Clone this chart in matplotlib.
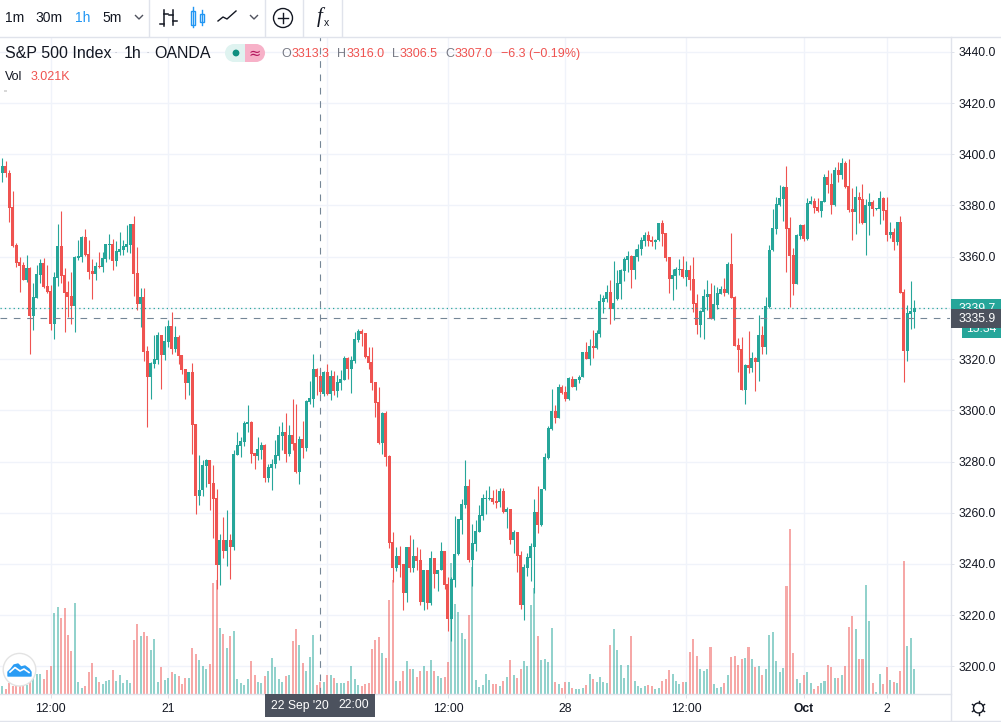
import numpy as np
import matplotlib
matplotlib.use("Agg")
import matplotlib.pyplot as plt
from matplotlib.patches import Rectangle, Circle, Polygon

plt.rcParams['font.family'] = ['Liberation Sans', 'DejaVu Sans']

#-----------data-----------#

opens = [3391.9,3392.6,3395.5,3392.6,3379.3,3364.6,3357.8,3356.6,3350.9,3355.6,
3336.9,3343.9,3352.9,3357.6,3348.6,3346.6,3333.7,3351.7,3364.2,3352.9,
3346.2,3344.7,3340.8,3359.5,3359.9,3367.7,3361.1,3354.4,3353.3,3356.4,
3356.0,3359.1,3364.7,3365.0,3358.3,3361.9,3362.6,3363.8,3364.6,3372.8,
3353.7,3341.5,3344.3,3323.2,3313.0,3318.1,3319.7,3329.4,3321.6,3326.7,
3332.9,3324.0,3328.7,3321.6,3316.2,3310.7,3315.0,3294.5,3266.5,3268.8,
3278.3,3280.5,3271.5,3265.6,3239.6,3249.2,3244.9,3249.2,3246.5,3282.6,
3286.1,3287.5,3294.5,3295.3,3283.2,3282.0,3284.4,3286.3,3273.4,3277.6,
3278.9,3282.2,3290.0,3291.6,3283.0,3290.4,3287.3,3276.0,3288.9,3285.4,
3303.3,3304.5,3316.2,3313.3,3306.5,3315.0,3306.5,3313.5,3307.6,3310.7,
3311.9,3320.5,3316.2,3319.3,3327.5,3331.1,3330.3,3321.3,3319.0,3311.1,
3303.3,3287.3,3299.0,3282.2,3248.6,3238.5,3243.2,3240.1,3228.7,3246.7,
3238.5,3243.2,3241.6,3225.2,3237.7,3224.8,3242.4,3236.1,3237.7,3245.1,
3232.2,3218.6,3233.8,3243.9,3257.2,3263.1,3270.6,3241.6,3247.9,3252.6,
3258.8,3265.4,3265.4,3265.8,3264.7,3264.1,3268.6,3260.2,3261.5,3249.4,
3252.6,3243.6,3224.0,3238.5,3242.4,3246.8,3260.4,3255.3,3269.4,3281.5,
3292.7,3299.7,3297.0,3309.1,3307.2,3304.4,3312.4,3309.1,3311.9,3313.0,
3322.8,3320.1,3325.1,3324.4,3329.8,3342.3,3343.5,3346.2,3339.6,3343.5,
3349.4,3354.4,3358.7,3360.3,3354.8,3359.9,3363.0,3366.2,3368.5,3366.5,
3365.9,3366.5,3373.2,3369.3,3359.9,3351.3,3352.5,3354.8,3355.2,3352.1,
3354.8,3351.3,3341.9,3333.3,3338.4,3344.3,3345.4,3335.7,3341.1,3345.4,
3347.4,3345.8,3357.2,3344.3,3325.5,3324.0,3307.9,3317.7,3316.5,3320.5,
3318.9,3329.4,3324.7,3340.5,3362.6,3370.8,3380.2,3382.6,3387.2,3371.2,
3360.7,3349.4,3368.1,3372.4,3366.9,3380.7,3381.8,3379.4,3377.9,3381.4,
3391.2,3388.4,3380.2,3393.9,3391.9,3396.6,3387.6,3378.7,3377.5,3383.3,
3382.6,3373.2,3379.8,3381.4,3378.5,3378.7,3382.9,3378.3,3368.5,3369.7,
3365.8,3373.6,3346.2,3323.2,3337.6,3338.4]

highs = [3395.2,3398.4,3397.4,3393.9,3385.7,3365.2,3359.8,3357.9,3360.7,3356.1,
3349.6,3356.8,3359.0,3359.4,3356.8,3349.0,3353.9,3372.8,3377.9,3355.6,
3350.5,3354.0,3360.3,3366.5,3368.1,3370.8,3366.5,3359.1,3357.9,3361.9,
3361.9,3365.0,3368.9,3366.9,3366.2,3369.7,3366.5,3372.4,3372.8,3375.7,
3363.8,3347.8,3347.8,3325.1,3318.9,3329.4,3330.6,3329.4,3332.9,3335.3,
3338.4,3332.9,3329.4,3321.6,3316.2,3315.0,3318.5,3294.8,3282.4,3280.5,
3281.1,3280.5,3278.5,3269.1,3251.6,3258.2,3260.9,3251.6,3284.4,3291.4,
3289.5,3295.7,3302.0,3295.7,3283.2,3289.5,3287.5,3286.7,3279.2,3281.1,
3288.5,3293.7,3295.5,3299.0,3294.4,3304.5,3302.6,3290.0,3295.9,3304.1,
3311.5,3322.1,3316.6,3316.0,3315.4,3318.2,3315.8,3315.4,3313.9,3315.8,
3321.3,3320.9,3321.3,3330.7,3331.8,3331.8,3330.3,3324.8,3324.8,3311.1,
3309.2,3299.4,3299.8,3282.6,3252.5,3246.7,3247.1,3240.1,3246.7,3251.4,
3249.8,3246.6,3245.9,3237.7,3237.7,3245.1,3242.4,3237.7,3248.6,3245.1,
3235.0,3235.0,3258.8,3257.6,3265.4,3280.7,3273.3,3255.7,3257.2,3263.1,
3267.4,3269.0,3270.5,3269.0,3269.4,3269.7,3269.7,3262.3,3261.5,3253.3,
3252.6,3245.0,3240.1,3244.3,3248.3,3265.4,3270.5,3269.4,3283.4,3293.9,
3308.3,3302.1,3310.3,3309.9,3309.5,3313.2,3313.4,3312.4,3313.7,3322.8,
3326.7,3327.9,3331.4,3331.4,3345.5,3345.1,3349.0,3350.9,3358.3,3354.8,
3355.2,3359.9,3362.2,3360.7,3363.0,3365.0,3367.7,3369.7,3370.1,3368.1,
3366.9,3373.2,3374.4,3369.3,3359.9,3355.2,3356.0,3359.1,3360.3,3358.3,
3356.8,3359.9,3345.4,3339.2,3347.4,3350.9,3349.7,3348.9,3348.2,3348.6,
3351.7,3358.0,3369.3,3344.7,3328.3,3328.7,3318.1,3331.0,3322.8,3320.8,
3337.2,3332.9,3344.3,3364.6,3378.7,3383.3,3388.0,3387.6,3395.4,3375.5,
3363.4,3368.9,3372.8,3372.8,3382.9,3383.7,3382.9,3382.9,3381.8,3392.3,
3393.9,3392.7,3395.1,3397.0,3398.6,3397.4,3398.2,3386.9,3387.6,3385.3,
3388.4,3382.6,3384.9,3382.2,3378.9,3385.7,3383.3,3383.3,3373.6,3371.2,
3373.6,3375.9,3347.4,3341.2,3350.5,3343.1]

lows = [3388.9,3389.1,3391.3,3373.7,3363.9,3355.9,3346.4,3350.9,3350.3,3322.0,
3331.4,3343.8,3349.6,3347.9,3345.7,3331.4,3327.9,3348.6,3349.6,3330.6,
3336.6,3333.7,3330.6,3358.7,3357.9,3360.3,3351.3,3343.5,3350.9,3355.6,
3354.0,3357.9,3359.1,3354.8,3356.4,3360.6,3360.7,3361.9,3361.3,3344.7,
3339.2,3332.7,3319.3,3293.5,3304.4,3316.5,3318.1,3308.3,3319.7,3324.9,
3322.0,3322.8,3318.1,3314.2,3304.4,3306.0,3282.8,3259.4,3262.9,3266.5,
3270.0,3260.9,3250.3,3230.1,3231.6,3242.2,3239.1,3234.0,3245.3,3282.4,
3281.6,3285.9,3291.4,3279.3,3277.0,3280.5,3280.9,3271.9,3271.9,3268.7,
3277.6,3280.4,3284.6,3279.9,3282.2,3284.6,3275.6,3271.3,3281.5,3284.2,
3302.5,3301.2,3306.1,3306.5,3305.7,3306.1,3304.1,3306.1,3305.3,3308.0,
3311.9,3312.3,3306.8,3318.6,3326.8,3325.2,3320.5,3316.2,3308.0,3297.5,
3286.9,3283.0,3278.3,3246.3,3233.0,3237.3,3235.0,3222.1,3225.2,3236.9,
3236.9,3237.7,3224.0,3222.1,3222.5,3224.0,3230.7,3229.5,3237.7,3230.3,
3213.9,3209.9,3231.0,3243.6,3251.8,3261.9,3240.7,3231.2,3245.1,3252.6,
3257.2,3259.6,3265.0,3263.5,3261.7,3262.4,3259.8,3254.1,3247.9,3244.2,
3236.9,3222.5,3218.2,3235.1,3233.4,3228.6,3252.0,3254.9,3269.0,3281.1,
3292.3,3294.9,3297.0,3306.4,3303.7,3304.0,3309.0,3307.9,3310.7,3313.0,
3320.1,3317.7,3320.3,3324.0,3328.8,3337.9,3342.3,3333.7,3335.3,3343.1,
3343.5,3350.5,3354.0,3347.8,3351.3,3358.3,3360.7,3364.2,3364.2,3364.2,
3363.0,3366.3,3364.2,3358.3,3345.8,3343.1,3347.4,3352.9,3351.7,3348.6,
3347.0,3338.4,3329.8,3328.7,3327.9,3339.2,3335.7,3335.3,3339.6,3345.4,
3344.7,3345.4,3343.9,3325.1,3315.0,3307.9,3302.5,3314.6,3315.0,3307.6,
3311.5,3322.0,3322.0,3339.9,3362.2,3368.9,3379.8,3374.0,3354.0,3340.4,
3345.1,3349.4,3366.8,3366.2,3366.5,3380.6,3377.1,3377.5,3375.5,3381.4,
3384.9,3376.7,3379.8,3389.2,3390.4,3386.9,3377.5,3366.5,3368.9,3373.2,
3372.8,3360.7,3368.5,3375.9,3378.3,3372.8,3374.4,3366.2,3367.3,3362.6,
3364.6,3345.8,3311.1,3319.3,3331.8,3332.2]

closes = [3392.6,3395.5,3392.6,3379.2,3364.2,3357.7,3356.4,3350.9,3355.6,3336.9,
3344.3,3353.3,3357.6,3348.3,3346.1,3333.7,3352.1,3364.2,3352.5,3345.8,
3344.3,3340.8,3359.9,3360.3,3367.7,3360.7,3354.0,3353.3,3356.4,3356.1,
3359.5,3365.0,3365.0,3358.3,3362.2,3363.0,3364.2,3365.0,3372.8,3353.3,
3341.5,3344.3,3322.8,3313.0,3318.5,3320.1,3329.4,3321.6,3327.1,3332.9,
3324.0,3328.7,3321.2,3315.8,3310.7,3315.0,3294.3,3266.5,3269.0,3278.5,
3280.5,3271.1,3265.2,3239.6,3249.2,3244.9,3249.2,3246.5,3282.8,3286.3,
3287.9,3294.9,3295.3,3282.8,3282.0,3284.8,3286.3,3273.4,3277.7,3279.2,
3282.4,3290.4,3291.6,3283.0,3290.4,3286.9,3276.0,3288.9,3285.4,3303.7,
3304.9,3316.2,3313.1,3307.0,3315.0,3306.5,3313.5,3307.6,3311.1,3312.2,
3320.5,3316.2,3319.7,3327.9,3331.1,3329.9,3320.9,3318.6,3310.8,3302.9,
3287.3,3299.0,3281.9,3248.3,3238.5,3243.2,3239.7,3228.7,3246.7,3238.5,
3243.2,3241.2,3225.2,3237.7,3224.8,3242.4,3236.1,3237.7,3245.1,3231.9,
3218.6,3234.2,3244.0,3257.6,3263.5,3270.6,3241.6,3248.3,3252.9,3259.2,
3265.8,3265.8,3265.8,3264.3,3263.9,3268.6,3260.4,3261.5,3249.4,3252.6,
3243.2,3224.0,3238.9,3242.8,3247.1,3260.4,3255.3,3269.4,3281.8,3293.2,
3299.7,3297.0,3309.1,3306.8,3304.4,3312.6,3309.0,3312.3,3313.2,3322.8,
3320.1,3325.1,3324.4,3330.2,3342.7,3343.9,3346.2,3339.6,3341.9,3349.7,
3354.8,3359.1,3360.3,3354.8,3360.3,3363.0,3366.5,3368.5,3366.2,3365.9,
3366.5,3373.2,3368.9,3359.5,3351.3,3352.9,3355.2,3355.2,3352.1,3354.8,
3350.9,3341.5,3333.3,3338.8,3344.7,3345.4,3335.7,3341.5,3345.8,3347.4,
3345.8,3357.2,3343.9,3325.1,3323.6,3307.9,3317.7,3316.5,3320.5,3318.9,
3329.4,3324.7,3340.8,3362.6,3371.2,3380.6,3382.9,3387.2,3370.8,3360.3,
3349.4,3368.5,3372.4,3366.9,3381.0,3381.8,3379.0,3377.9,3381.8,3391.2,
3388.0,3380.2,3393.9,3391.9,3396.6,3387.2,3378.3,3377.5,3383.3,3382.2,
3373.2,3380.2,3381.4,3378.7,3378.9,3382.9,3377.9,3368.5,3369.7,3365.8,
3373.6,3345.8,3323.2,3338.0,3338.8,3340.0]

# volume in thousands
volumes = [1.33,1.95,1.33,2.84,1.95,1.95,1.95,2.22,2.22,3.11,
4.26,5.33,5.15,3.82,6.22,7.29,21.59,23.01,20.08,22.75,
15.55,11.28,24.08,3.02,1.51,1.95,5.69,8.09,4.35,3.02,
2.49,3.29,3.55,6.22,3.29,4.89,2.75,3.55,2.75,14.22,
18.48,15.28,16.35,15.28,11.55,14.48,3.02,7.02,3.55,4.09,
5.69,5.15,4.62,2.49,4.09,4.09,12.08,10.48,8.89,7.29,
6.49,7.82,29.41,30.21,17.41,15.82,12.08,15.28,16.61,3.82,
2.75,2.22,3.82,8.62,4.89,3.02,2.75,4.62,5.95,9.42,
7.02,3.82,3.02,4.62,4.89,13.95,17.15,12.88,8.09,5.95,
9.68,15.55,2.22,3.021,3.02,4.89,4.89,4.09,2.75,2.93,
2.75,3.29,7.29,3.82,2.22,1.95,2.49,2.75,11.82,14.22,
15.02,10.75,9.42,24.88,30.21,3.29,3.29,5.95,8.62,6.49,
6.49,4.35,5.95,7.29,5.95,8.89,5.95,4.62,4.09,4.35,
8.35,34.83,23.99,21.68,16.08,14.48,20.88,33.76,3.55,1.69,
2.22,5.15,3.55,2.49,2.49,1.95,3.29,4.35,8.89,4.89,
4.09,6.49,8.62,7.29,23.55,28.08,15.28,8.89,9.15,8.35,
17.41,3.02,2.49,1.42,3.02,3.02,1.42,1.16,1.16,1.42,
2.22,5.15,3.82,3.02,4.35,3.02,2.75,12.88,17.15,11.55,
7.55,4.09,7.55,15.28,3.29,1.95,1.42,1.95,2.22,1.95,
1.16,1.42,3.29,3.82,6.22,5.15,3.29,2.49,3.02,3.02,
11.02,14.48,9.95,6.49,5.95,6.49,12.35,2.49,1.42,1.69,
2.75,4.89,9.68,9.95,7.55,9.15,9.42,12.35,9.15,7.02,
7.29,4.89,6.49,15.55,16.35,8.62,5.69,6.75,28.61,43.80,
10.75,3.82,2.75,4.89,5.69,2.75,1.16,1.95,2.75,3.29,
7.55,7.02,4.09,4.09,4.89,7.29,17.68,20.61,17.15,9.15,
9.15,28.88,19.28,2.75,0.36,5.15,2.49,7.02,3.55,3.02,
2.75,5.95,35.27,12.62,14.75,6.49]

price_ticks = [3200,3220,3240,3260,3280,3300,3320,3340,3360,3380,3400,3420,3440]
time_idx = [15, 49, 95, 130, 164, 199, 233, 257]
time_labels = ["12:00", "21", "22", "12:00", "28", "12:00", "Oct", "2"]
cross_idx = 93
cross_price = 3335.9
last_price = 3339.8

#----------plot-------------#

W, H = 1001, 722
GREEN = "#26a69a"
RED = "#ef5350"
GRID = "#f0f3fa"
BORDER = "#e0e3eb"
DARK = "#131722"
CROSS = "#758696"

o = np.array(opens)
c = np.array(closes)
x = np.arange(len(o))
up = c >= o
colors = np.where(up, GREEN, RED)

fig = plt.figure(figsize=(W/100, H/100), dpi=100, facecolor="white")
rect = [0, (H-693.5)/H, 950/W, (693.5-37)/H]

xlim = (0.324, 275.33)
ylim = (3189.4, 3445.8)

ax_g = fig.add_axes(rect, zorder=1)
ax_v = fig.add_axes(rect, zorder=2)
ax = fig.add_axes(rect, zorder=3)
for a in (ax_g, ax_v, ax):
    a.set_xlim(xlim)
    for s in a.spines.values():
        s.set_visible(False)
ax_v.patch.set_visible(False)
ax.patch.set_visible(False)

# grid at the very back
ax_g.set_ylim(ylim)
ax_g.set_xticks(time_idx)
ax_g.set_yticks(price_ticks)
ax_g.grid(color=GRID, linewidth=1.0)
ax_g.tick_params(length=0, labelbottom=False, labelleft=False)
ax_g.set_axisbelow(True)

# volume
ax_v.set_ylim(0, 175)
ax_v.bar(x, volumes, width=0.58, color=colors, alpha=0.5, linewidth=0)
ax_v.set_xticks([])
ax_v.set_yticks([])

# candles
ax.set_ylim(ylim)
ax.vlines(x, lows, highs, colors=colors, linewidth=0.8)
ax.bar(x, np.abs(c-o), bottom=np.minimum(o, c), width=0.87, color=colors, linewidth=0)
ax.axhline(last_price, color=GREEN, linewidth=0.9, linestyle=(0, (1, 2.5)))
ax.axhline(cross_price, color=CROSS, linewidth=0.8, linestyle=(0, (6, 6)))
ax.axvline(cross_idx, color=CROSS, linewidth=0.8, linestyle=(0, (6, 6)))

ax.yaxis.tick_right()
ax.set_yticks(price_ticks)
ax.set_yticklabels(["" if p == 3340 else "%.1f" % p for p in price_ticks], fontsize=8.7, color=DARK)
ax.set_xticks(time_idx)
ax.set_xticklabels(time_labels, fontsize=8.7, color=DARK)
ax.get_xticklabels()[6].set_fontweight("bold")
ax.tick_params(axis="y", length=2.9, width=0.7, color=BORDER, pad=3.4)
ax.tick_params(axis="x", length=2.9, width=0.7, color=BORDER, pad=3.6)

# interface layer in pixel coordinates
ui = fig.add_axes([0, 0, 1, 1], zorder=5)
ui.set_xlim(0, W)
ui.set_ylim(H, 0)
ui.axis("off")

def label(px, py, s, size, color=DARK, **kw):
    kw.setdefault("ha", "left")
    ui.text(px, py, s, fontsize=size, color=color, va="center", **kw)

# borders
ui.plot([0, W], [36.5, 36.5], color=BORDER, lw=1)
ui.plot([0, 950.5], [693.5, 693.5], color=BORDER, lw=1)
ui.plot([950.5, 950.5], [37, H], color=BORDER, lw=1)
ui.plot([0, W], [720.5, 720.5], color=BORDER, lw=1)
for sx in (149, 265, 303, 342):
    ui.plot([sx, sx], [0, 36], color=BORDER, lw=1)

# toolbar
label(5, 17.5, "1m", 10)
label(35, 17.5, "30m", 10)
label(75, 17.5, "1h", 10, color="#2196f3")
label(102, 17.5, "5m", 10)
for cx in (139, 254):
    ui.plot([cx-3.5, cx, cx+3.5], [15.5, 19, 15.5], color="#50535e", lw=1)

# bars icon
ui.plot([164, 164], [10, 26], color=DARK, lw=1.1)
ui.plot([160, 164], [24, 24], color=DARK, lw=1.1)
ui.plot([164, 168], [14, 14], color=DARK, lw=1.1)
ui.plot([173, 173], [10, 25], color=DARK, lw=1.1)
ui.plot([169, 173], [15, 15], color=DARK, lw=1.1)
ui.plot([173, 177], [21, 21], color=DARK, lw=1.1)

# candle icon
BLUE = "#2196f3"
ui.add_patch(Rectangle((191, 10.5), 4, 14, fill=False, ec=BLUE, lw=1))
ui.plot([193, 193], [7, 27], color=BLUE, lw=1)
ui.add_patch(Rectangle((200, 13.5), 4, 8, fill=False, ec=BLUE, lw=1))
ui.plot([202, 202], [10, 25], color=BLUE, lw=1)

# area icon
area = [(218, 24), (218, 21), (223, 17), (227, 19), (236, 11), (237, 24)]
ui.add_patch(Polygon(area, closed=True, fc="white", ec="none", hatch="......", lw=0))
ui.plot([p[0] for p in area[1:5]], [p[1] for p in area[1:5]], color=DARK, lw=1)

# plus in a circle
ui.add_patch(Circle((283, 18), 9.5, fill=False, ec=DARK, lw=1))
ui.plot([278, 288], [18, 18], color=DARK, lw=1)
ui.plot([283, 283], [13, 23], color=DARK, lw=1)

# fx
ui.text(320, 17, "f", fontsize=15, family="Liberation Serif", style="italic", color=DARK, ha="center", va="center")
ui.text(326.5, 23, "x", fontsize=7.5, color=DARK, ha="center", va="center")

# legend
label(5, 53, "S&P 500 Index", 11.5)
label(124, 53, "1h", 11.5)
label(154, 53, "OANDA", 11.5)
ui.text(116, 53, "·", fontsize=9, color="#b0b3bb", ha="center", va="center")
ui.text(148, 53, "·", fontsize=9, color="#b0b3bb", ha="center", va="center")

ui.add_patch(Rectangle((234, 44), 12, 18, fc="#dff3f0", ec="none"))
ui.add_patch(Circle((234, 53), 9, fc="#dff3f0", ec="none"))
ui.add_patch(Rectangle((245, 44), 11, 18, fc="#f7b1c8", ec="none"))
ui.add_patch(Circle((256, 53), 9, fc="#f7b1c8", ec="none"))
ui.add_patch(Circle((236, 53), 3.4, fc="#0f8f80", ec="none"))
ui.text(255, 53, "≈", fontsize=10.5, color="#b4185e", ha="center", va="center", family="DejaVu Sans")

GREY = "#787b86"
label(281, 54, "O", 9, GREY)
label(292, 54, "3313.3", 9, RED)
label(337, 54, "H", 9, GREY)
label(347, 54, "3316.0", 9, RED)
label(392, 54, "L", 9, GREY)
label(400, 54, "3306.5", 9, RED)
label(445, 54, "C", 9, GREY)
label(455, 54, "3307.0", 9, RED)
label(501, 54, "−6.3 (−0.19%)", 9, RED)

label(5, 77, "Vol", 9)
label(31, 77, "3.021K", 9, RED)
ui.add_patch(Rectangle((4, 90), 2.5, 2, fc="#d8d8d8", ec="none"))

# price boxes on the right
ui.add_patch(Rectangle((950.5, 299), 51, 20, fc=GREEN, ec="none", zorder=3))
ui.text(977.5, 308.5, "3339.7", fontsize=8.7, color="white", ha="center", va="center", zorder=3.1)
ui.add_patch(Rectangle((962, 320), 39, 17.5, fc=GREEN, ec="none", zorder=3))
ui.text(981.5, 329.5, "15.34", fontsize=8.7, color="white", ha="center", va="center", zorder=3.1)
ui.add_patch(Rectangle((950.5, 309.3), 51, 18.5, fc="#4c525e", ec="none", zorder=4))
ui.text(977.5, 318.5, "3335.9", fontsize=8.7, color="white", ha="center", va="center", zorder=4.1)

# crosshair time label
ui.add_patch(Rectangle((265, 694), 110, 23, fc="#4c525e", ec="none", zorder=4))
ui.text(271, 705.5, "22 Sep '20", fontsize=8.7, color="white", va="center", zorder=4.1)
ui.text(338, 705.5, "22:00", fontsize=8.7, color="white", va="center", zorder=4.1)

# gear
ui.add_patch(Circle((978.5, 708), 5, fill=False, ec=DARK, lw=1))
for ang in np.arange(0, 360, 60) + 30:
    ca, sa = np.cos(np.radians(ang)), np.sin(np.radians(ang))
    ui.plot([978.5+5*ca, 978.5+7*ca], [708+5*sa, 708+7*sa], color=DARK, lw=1)

# logo
ui.add_patch(Circle((19.5, 669.7), 16.3, fc="white", ec="#e3e3e3", lw=1, zorder=6))
cloud = [(8, 676), (8, 672), (11, 669), (14, 665), (18, 664), (21, 667), (25, 666),
         (29, 669), (31, 672), (31, 676)]
ui.add_patch(Polygon(cloud, closed=True, fc="#2a9cf4", ec="#2a9cf4", lw=1, joinstyle="round", zorder=6.1))
ui.plot([10, 15, 20, 24, 29], [672, 667.5, 671, 669, 672.5], color="white", lw=1.2, zorder=6.2)

fig.savefig("out.png", dpi=100, facecolor="white")
